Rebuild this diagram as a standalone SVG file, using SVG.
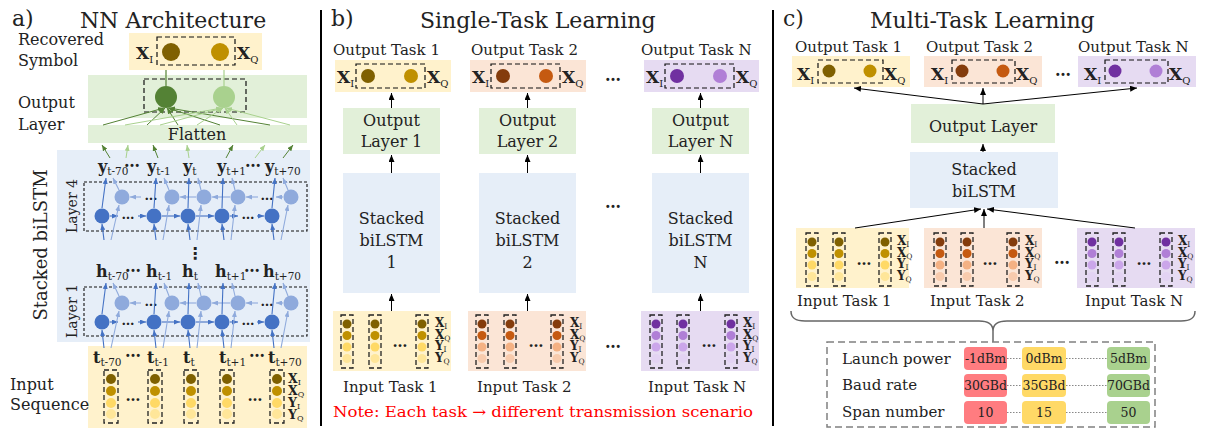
<svg xmlns="http://www.w3.org/2000/svg" width="1207" height="432" viewBox="0 0 1207 432">
<style>
text{font-family:"DejaVu Serif","Liberation Serif",serif;fill:#222}
.b{font-weight:bold}
.n{font-weight:normal}
.c{text-anchor:middle}
.red{fill:#ff0000}
.dash{fill:none;stroke:#111;stroke-width:1.2;stroke-dasharray:5,3}
.col{fill:none;stroke:#222;stroke-width:1.3;stroke-dasharray:5,3}
.k{stroke:#000;stroke-width:1;fill:none;marker-end:url(#mk)}
.db{stroke:#4472c4;stroke-width:1.1;fill:none;marker-end:url(#mdb)}
.lb{stroke:#8faadc;stroke-width:1.1;fill:none;marker-end:url(#mlb)}
.dg{stroke:#548235;stroke-width:1;fill:none;marker-end:url(#mdg)}
.lg{stroke:#a9d18e;stroke-width:1;fill:none;marker-end:url(#mlg)}
.yel{fill:#fff2cc}.ora{fill:#fbe5d6}.pur{fill:#e6dbf2}.grn{fill:#e2f0d9}.blu{fill:#e6eef8}
.dot{stroke:#888;stroke-width:1.2;stroke-dasharray:1.5,1.5}
</style>
<defs>
<marker id="mk" markerWidth="7" markerHeight="6" refX="7" refY="3" orient="auto" markerUnits="userSpaceOnUse"><path d="M0,0 L7,3 L0,6 Z" fill="#000"/></marker>
<marker id="mdb" markerWidth="6" markerHeight="5" refX="6" refY="2.5" orient="auto" markerUnits="userSpaceOnUse"><path d="M0,0 L6,2.5 L0,5 Z" fill="#4472c4"/></marker>
<marker id="mlb" markerWidth="6" markerHeight="5" refX="6" refY="2.5" orient="auto" markerUnits="userSpaceOnUse"><path d="M0,0 L6,2.5 L0,5 Z" fill="#8faadc"/></marker>
<marker id="mdg" markerWidth="6" markerHeight="5" refX="6" refY="2.5" orient="auto" markerUnits="userSpaceOnUse"><path d="M0,0 L6,2.5 L0,5 Z" fill="#548235"/></marker>
<marker id="mlg" markerWidth="6" markerHeight="5" refX="6" refY="2.5" orient="auto" markerUnits="userSpaceOnUse"><path d="M0,0 L6,2.5 L0,5 Z" fill="#a9d18e"/></marker>
<g id="cA"><rect x="-7" y="0" width="14" height="53" class="col"/><circle cy="9" r="5" fill="#7f6000"/><circle cy="21" r="5" fill="#bf9000"/><circle cy="33" r="5" fill="#ffd966"/><circle cy="44" r="5" fill="#ffe699"/></g>
<g id="cy"><rect x="-6" y="0" width="12" height="53" class="col"/><circle cy="9" r="4.5" fill="#7f6000"/><circle cy="20.5" r="4.5" fill="#bf9000"/><circle cy="32" r="4.5" fill="#ffd966"/><circle cy="43.5" r="4.5" fill="#ffe699"/></g>
<g id="co"><rect x="-6" y="0" width="12" height="53" class="col"/><circle cy="9" r="4.5" fill="#843c0c"/><circle cy="20.5" r="4.5" fill="#c55a11"/><circle cy="32" r="4.5" fill="#f4b183"/><circle cy="43.5" r="4.5" fill="#f8cbad"/></g>
<g id="cp"><rect x="-6" y="0" width="12" height="53" class="col"/><circle cy="9" r="4.5" fill="#7030a0"/><circle cy="20.5" r="4.5" fill="#b07fd6"/><circle cy="32" r="4.5" fill="#cba6ea"/><circle cy="43.5" r="4.5" fill="#e3d3f3"/></g>
<g id="labs" font-weight="bold" font-size="12"><text x="0" y="12">X<tspan class="n" font-size="7.5" dy="2">I</tspan></text><text x="0" y="23.5">X<tspan class="n" font-size="7.5" dy="2">Q</tspan></text><text x="0" y="35">Y<tspan class="n" font-size="7.5" dy="2">I</tspan></text><text x="0" y="46.5">Y<tspan class="n" font-size="7.5" dy="2">Q</tspan></text></g>
</defs>

<g id="separators">
<line x1="321" y1="10" x2="321" y2="426" stroke="#000" stroke-width="2"/>
<line x1="773" y1="10" x2="773" y2="426" stroke="#000" stroke-width="2"/>
</g>

<!-- ============ Panel a ============ -->
<g id="a-title"><text x="12" y="26" font-size="22">a)</text><text x="80" y="28" font-size="22">NN Architecture</text></g>

<g id="a-recovered">
<text x="18" y="45" font-size="16">Recovered</text>
<text x="18" y="66" font-size="16">Symbol</text>
<rect x="129" y="33" width="133" height="37" class="yel"/>
<rect x="157" y="37" width="78" height="28" class="dash"/>
<circle cx="171" cy="52" r="9" fill="#7f6000"/>
<circle cx="220" cy="52" r="9" fill="#bf9000"/>
<text x="136" y="59" class="b" font-size="17">X<tspan class="n" font-size="10" dy="4">I</tspan></text>
<text x="237" y="59" class="b" font-size="17">X<tspan class="n" font-size="10" dy="4">Q</tspan></text>
</g>

<g id="a-output-layer">
<text x="18" y="108" font-size="16">Output</text>
<text x="18" y="130" font-size="16">Layer</text>
<rect x="88" y="75" width="219" height="43" class="grn"/>
<rect x="144" y="79" width="102" height="33" class="dash"/>
<circle cx="166" cy="97" r="11" fill="#548235"/>
<circle cx="224" cy="97" r="11" fill="#a9d18e"/>
</g>

<g id="a-flatten">
<rect x="88" y="125" width="219" height="18" class="grn"/>
<text x="197" y="140" class="c" font-size="16">Flatten</text>
</g>

<g id="a-stacked">
<rect x="57" y="150" width="253" height="192" class="blu"/>
<text transform="translate(47,245) rotate(-90)" class="c" font-size="18">Stacked biLSTM</text>
<text transform="translate(77,206) rotate(-90)" class="c" font-size="14">Layer 4</text>
<text transform="translate(77,311) rotate(-90)" class="c" font-size="14">Layer 1</text>
<rect x="84" y="182" width="223" height="49" fill="none" stroke="#111" stroke-width="1.1" stroke-dasharray="3,2"/>
<rect x="84" y="287" width="223" height="49" fill="none" stroke="#111" stroke-width="1.1" stroke-dasharray="3,2"/>
<text x="195" y="259" class="c b" font-size="16" style="font-family:'DejaVu Sans',sans-serif">⋮</text>
</g>

<g id="a-y-labels" class="b" font-size="16">
<text x="98" y="172">y<tspan class="n" font-size="10.5" dy="3">t-70</tspan></text>
<text x="132" y="167" class="c">…</text>
<text x="147" y="172">y<tspan class="n" font-size="10.5" dy="3">t-1</tspan></text>
<text x="183" y="172">y<tspan class="n" font-size="10.5" dy="3">t</tspan></text>
<text x="217" y="172">y<tspan class="n" font-size="10.5" dy="3">t+1</tspan></text>
<text x="253" y="167" class="c">…</text>
<text x="265" y="172">y<tspan class="n" font-size="10.5" dy="3">t+70</tspan></text>
</g>
<g id="a-h-labels" class="b" font-size="16">
<text x="96" y="277">h<tspan class="n" font-size="10.5" dy="3">t-70</tspan></text>
<text x="133" y="272" class="c">…</text>
<text x="146" y="277">h<tspan class="n" font-size="10.5" dy="3">t-1</tspan></text>
<text x="182" y="277">h<tspan class="n" font-size="10.5" dy="3">t</tspan></text>
<text x="215" y="277">h<tspan class="n" font-size="10.5" dy="3">t+1</tspan></text>
<text x="252" y="272" class="c">…</text>
<text x="263" y="277">h<tspan class="n" font-size="10.5" dy="3">t+70</tspan></text>
</g>

<g id="a-layer4-nodes">
<circle cx="102" cy="216" r="7.5" fill="#4472c4"/><circle cx="154" cy="216" r="7.5" fill="#4472c4"/><circle cx="188" cy="216" r="7.5" fill="#4472c4"/><circle cx="222" cy="216" r="7.5" fill="#4472c4"/><circle cx="272" cy="216" r="7.5" fill="#4472c4"/>
<circle cx="122" cy="197" r="7.5" fill="#8faadc"/><circle cx="172" cy="197" r="7.5" fill="#8faadc"/><circle cx="204" cy="197" r="7.5" fill="#8faadc"/><circle cx="238" cy="197" r="7.5" fill="#8faadc"/><circle cx="291" cy="197" r="7.5" fill="#8faadc"/>
<text x="128" y="219" class="c b" font-size="13">…</text><text x="248" y="219" class="c b" font-size="13">…</text>
<text x="151" y="200" class="c b" font-size="13">…</text><text x="267" y="200" class="c b" font-size="13">…</text>
</g>
<g id="a-layer1-nodes">
<circle cx="102" cy="322" r="7.5" fill="#4472c4"/><circle cx="154" cy="322" r="7.5" fill="#4472c4"/><circle cx="188" cy="322" r="7.5" fill="#4472c4"/><circle cx="222" cy="322" r="7.5" fill="#4472c4"/><circle cx="272" cy="322" r="7.5" fill="#4472c4"/>
<circle cx="122" cy="303" r="7.5" fill="#8faadc"/><circle cx="172" cy="303" r="7.5" fill="#8faadc"/><circle cx="204" cy="303" r="7.5" fill="#8faadc"/><circle cx="238" cy="303" r="7.5" fill="#8faadc"/><circle cx="291" cy="303" r="7.5" fill="#8faadc"/>
<text x="128" y="325" class="c b" font-size="13">…</text><text x="248" y="325" class="c b" font-size="13">…</text>
<text x="151" y="306" class="c b" font-size="13">…</text><text x="267" y="306" class="c b" font-size="13">…</text>
</g>

<g id="a-input">
<rect x="88" y="346" width="219" height="82" class="yel"/>
<text x="10" y="390" font-size="16">Input</text>
<text x="10" y="410" font-size="16">Sequence</text>
<g class="b" font-size="16">
<text x="93" y="363">t<tspan class="n" font-size="10.5" dy="3">t-70</tspan></text>
<text x="133" y="357" class="c">…</text>
<text x="147" y="363">t<tspan class="n" font-size="10.5" dy="3">t-1</tspan></text>
<text x="183" y="363">t<tspan class="n" font-size="10.5" dy="3">t</tspan></text>
<text x="219" y="363">t<tspan class="n" font-size="10.5" dy="3">t+1</tspan></text>
<text x="257" y="357" class="c">…</text>
<text x="268" y="363">t<tspan class="n" font-size="10.5" dy="3">t+70</tspan></text>
</g>
<use href="#cA" x="111" y="370"/><use href="#cA" x="155" y="370"/><use href="#cA" x="191" y="370"/><use href="#cA" x="227" y="370"/><use href="#cA" x="277" y="370"/>
<text x="133" y="401" class="c b" font-size="15">…</text><text x="255" y="401" class="c b" font-size="15">…</text>
<g font-weight="bold" font-size="12.5">
<text x="288" y="383">X<tspan class="n" font-size="8" dy="2">I</tspan></text>
<text x="288" y="395">X<tspan class="n" font-size="8" dy="2">Q</tspan></text>
<text x="288" y="407">Y<tspan class="n" font-size="8" dy="2">I</tspan></text>
<text x="288" y="419">Y<tspan class="n" font-size="8" dy="2">Q</tspan></text>
</g>
</g>

<g id="a-connectors">
<line x1="166" y1="70" x2="166" y2="86" stroke="#548235" stroke-width="1.2"/>
<line x1="224" y1="70" x2="224" y2="86" stroke="#a9d18e" stroke-width="1.2"/>
<line class="dg" x1="103" y1="125" x2="164" y2="108"/><line class="dg" x1="147" y1="125" x2="165" y2="108"/><line class="dg" x1="178" y1="125" x2="167" y2="108"/><line class="dg" x1="220" y1="125" x2="168" y2="108"/><line class="dg" x1="270" y1="125" x2="169" y2="108"/>
<line class="lg" x1="125" y1="125" x2="222" y2="108"/><line class="lg" x1="160" y1="125" x2="223" y2="108"/><line class="lg" x1="197" y1="125" x2="223" y2="108"/><line class="lg" x1="237" y1="125" x2="225" y2="108"/><line class="lg" x1="290" y1="125" x2="226" y2="108"/>
<line class="dg" x1="110" y1="158" x2="102" y2="145"/><line class="lg" x1="126" y1="158" x2="128" y2="145"/><line class="dg" x1="158" y1="158" x2="153" y2="145"/><line class="lg" x1="189" y1="158" x2="187" y2="145"/><line class="dg" x1="226" y1="158" x2="233" y2="145"/><line class="lg" x1="255" y1="158" x2="265" y2="145"/><line class="dg" x1="283" y1="158" x2="293" y2="145"/>
<line class="db" x1="110" y1="216" x2="118" y2="216"/><line class="db" x1="138" y1="216" x2="146" y2="216"/><line class="db" x1="162" y1="216" x2="180" y2="216"/><line class="db" x1="196" y1="216" x2="214" y2="216"/><line class="db" x1="230" y1="216" x2="238" y2="216"/><line class="db" x1="257" y1="216" x2="264" y2="216"/>
<line class="lb" x1="141" y1="197" x2="130" y2="197"/><line class="lb" x1="196" y1="197" x2="180" y2="197"/><line class="lb" x1="230" y1="197" x2="212" y2="197"/><line class="lb" x1="258" y1="197" x2="246" y2="197"/><line class="lb" x1="283" y1="197" x2="276" y2="197"/>
<line class="db" x1="104" y1="240" x2="102" y2="224"/><line class="db" x1="156" y1="240" x2="154" y2="224"/><line class="db" x1="190" y1="240" x2="188" y2="224"/><line class="db" x1="224" y1="240" x2="222" y2="224"/><line class="db" x1="274" y1="240" x2="272" y2="224"/>
<line class="lb" x1="111" y1="240" x2="119" y2="205"/><line class="lb" x1="163" y1="240" x2="169" y2="205"/><line class="lb" x1="197" y1="240" x2="201" y2="205"/><line class="lb" x1="231" y1="240" x2="235" y2="205"/><line class="lb" x1="281" y1="240" x2="288" y2="205"/>
<line class="db" x1="102" y1="208" x2="106" y2="178"/><line class="db" x1="154" y1="208" x2="156" y2="178"/><line class="db" x1="188" y1="208" x2="189" y2="178"/><line class="db" x1="222" y1="208" x2="223" y2="178"/><line class="db" x1="272" y1="208" x2="275" y2="178"/>
<line class="lb" x1="119" y1="190" x2="113" y2="178"/><line class="lb" x1="169" y1="190" x2="164" y2="178"/><line class="lb" x1="201" y1="190" x2="198" y2="178"/><line class="lb" x1="235" y1="190" x2="232" y2="178"/><line class="lb" x1="288" y1="190" x2="283" y2="178"/>
<line class="db" x1="110" y1="322" x2="118" y2="322"/><line class="db" x1="138" y1="322" x2="146" y2="322"/><line class="db" x1="162" y1="322" x2="180" y2="322"/><line class="db" x1="196" y1="322" x2="214" y2="322"/><line class="db" x1="230" y1="322" x2="238" y2="322"/><line class="db" x1="257" y1="322" x2="264" y2="322"/>
<line class="lb" x1="141" y1="303" x2="130" y2="303"/><line class="lb" x1="196" y1="303" x2="180" y2="303"/><line class="lb" x1="230" y1="303" x2="212" y2="303"/><line class="lb" x1="258" y1="303" x2="246" y2="303"/><line class="lb" x1="283" y1="303" x2="276" y2="303"/>
<line class="db" x1="104" y1="348" x2="102" y2="330"/><line class="db" x1="156" y1="348" x2="154" y2="330"/><line class="db" x1="190" y1="348" x2="188" y2="330"/><line class="db" x1="224" y1="348" x2="222" y2="330"/><line class="db" x1="274" y1="348" x2="272" y2="330"/>
<line class="lb" x1="111" y1="348" x2="119" y2="311"/><line class="lb" x1="163" y1="348" x2="169" y2="311"/><line class="lb" x1="197" y1="348" x2="201" y2="311"/><line class="lb" x1="231" y1="348" x2="235" y2="311"/><line class="lb" x1="281" y1="348" x2="288" y2="311"/>
<line class="db" x1="102" y1="314" x2="106" y2="283"/><line class="db" x1="154" y1="314" x2="156" y2="283"/><line class="db" x1="188" y1="314" x2="189" y2="283"/><line class="db" x1="222" y1="314" x2="223" y2="283"/><line class="db" x1="272" y1="314" x2="275" y2="283"/>
<line class="lb" x1="119" y1="296" x2="113" y2="283"/><line class="lb" x1="169" y1="296" x2="164" y2="283"/><line class="lb" x1="201" y1="296" x2="198" y2="283"/><line class="lb" x1="235" y1="296" x2="232" y2="283"/><line class="lb" x1="288" y1="296" x2="283" y2="283"/>
</g>

<!-- ============ Panel b ============ -->
<g id="b-title"><text x="331" y="26" font-size="22">b)</text><text x="420" y="28" font-size="22">Single-Task Learning</text></g>

<g id="b-out1">
<text x="333" y="55" font-size="15">Output Task 1</text>
<rect x="335" y="60" width="116" height="32" class="yel"/>
<rect x="356" y="64" width="69" height="24" class="dash"/>
<circle cx="368" cy="76" r="7" fill="#7f6000"/><circle cx="411" cy="76" r="7" fill="#bf9000"/>
<text x="337" y="83" class="b" font-size="17">X<tspan class="n" font-size="10" dy="4">I</tspan></text>
<text x="427" y="83" class="b" font-size="17">X<tspan class="n" font-size="10" dy="4">Q</tspan></text>
</g>
<g id="b-out2">
<text x="471" y="55" font-size="15">Output Task 2</text>
<rect x="470" y="60" width="116" height="32" class="ora"/>
<rect x="491" y="64" width="69" height="24" class="dash"/>
<circle cx="503" cy="76" r="7" fill="#843c0c"/><circle cx="546" cy="76" r="7" fill="#c55a11"/>
<text x="472" y="83" class="b" font-size="17">X<tspan class="n" font-size="10" dy="4">I</tspan></text>
<text x="562" y="83" class="b" font-size="17">X<tspan class="n" font-size="10" dy="4">Q</tspan></text>
</g>
<g id="b-outN">
<text x="641" y="55" font-size="15">Output Task N</text>
<rect x="644" y="60" width="115" height="32" class="pur"/>
<rect x="665" y="64" width="69" height="24" class="dash"/>
<circle cx="677" cy="76" r="7" fill="#7030a0"/><circle cx="720" cy="76" r="7" fill="#b07fd6"/>
<text x="646" y="83" class="b" font-size="17">X<tspan class="n" font-size="10" dy="4">I</tspan></text>
<text x="736" y="83" class="b" font-size="17">X<tspan class="n" font-size="10" dy="4">Q</tspan></text>
</g>
<g id="b-dots" class="b" font-size="16">
<text x="613" y="81" class="c">…</text><text x="613" y="208" class="c">…</text><text x="613" y="348" class="c">…</text>
</g>

<g id="b-ol1"><rect x="343" y="108" width="97" height="46" class="grn"/><text x="391.5" y="126" class="c" font-size="16">Output</text><text x="391.5" y="147" class="c" font-size="16">Layer 1</text></g>
<g id="b-ol2"><rect x="479" y="108" width="97" height="46" class="grn"/><text x="527.5" y="126" class="c" font-size="16">Output</text><text x="527.5" y="147" class="c" font-size="16">Layer 2</text></g>
<g id="b-olN"><rect x="652" y="108" width="97" height="46" class="grn"/><text x="700.5" y="126" class="c" font-size="16">Output</text><text x="700.5" y="147" class="c" font-size="16">Layer N</text></g>

<g id="b-st1"><rect x="343" y="173" width="97" height="120" class="blu"/><text x="391.5" y="224" class="c" font-size="16">Stacked</text><text x="391.5" y="246" class="c" font-size="16">biLSTM</text><text x="391.5" y="268" class="c" font-size="16">1</text></g>
<g id="b-st2"><rect x="479" y="173" width="97" height="120" class="blu"/><text x="527.5" y="224" class="c" font-size="16">Stacked</text><text x="527.5" y="246" class="c" font-size="16">biLSTM</text><text x="527.5" y="268" class="c" font-size="16">2</text></g>
<g id="b-stN"><rect x="652" y="173" width="97" height="120" class="blu"/><text x="700.5" y="224" class="c" font-size="16">Stacked</text><text x="700.5" y="246" class="c" font-size="16">biLSTM</text><text x="700.5" y="268" class="c" font-size="16">N</text></g>

<g id="b-in1">
<rect x="333" y="311" width="118" height="60" class="yel"/>
<use href="#cy" x="347" y="315"/><use href="#cy" x="375" y="315"/><use href="#cy" x="422" y="315"/>
<text x="400" y="347" class="c b" font-size="15">…</text>
<use href="#labs" x="435" y="315"/>
<text x="343" y="392" font-size="15">Input Task 1</text>
</g>
<g id="b-in2">
<rect x="468" y="311" width="118" height="60" class="ora"/>
<use href="#co" x="482" y="315"/><use href="#co" x="510" y="315"/><use href="#co" x="557" y="315"/>
<text x="536" y="347" class="c b" font-size="15">…</text>
<use href="#labs" x="570" y="315"/>
<text x="477" y="392" font-size="15">Input Task 2</text>
</g>
<g id="b-inN">
<rect x="641" y="311" width="118" height="60" class="pur"/>
<use href="#cp" x="656" y="315"/><use href="#cp" x="683" y="315"/><use href="#cp" x="731" y="315"/>
<text x="709" y="347" class="c b" font-size="15">…</text>
<use href="#labs" x="743" y="315"/>
<text x="648" y="392" font-size="15">Input Task N</text>
</g>
<g id="b-note"><text x="333" y="417" font-size="15" class="red" textLength="420" lengthAdjust="spacingAndGlyphs">Note: Each task → different transmission scenario</text></g>

<g id="b-connectors">
<line class="k" x1="391.5" y1="108" x2="391.5" y2="93"/><line class="k" x1="527.5" y1="108" x2="527.5" y2="93"/><line class="k" x1="700.5" y1="108" x2="700.5" y2="93"/>
<line class="k" x1="391.5" y1="173" x2="391.5" y2="155"/><line class="k" x1="527.5" y1="173" x2="527.5" y2="155"/><line class="k" x1="700.5" y1="173" x2="700.5" y2="155"/>
<line class="k" x1="391.5" y1="311" x2="391.5" y2="294"/><line class="k" x1="527.5" y1="311" x2="527.5" y2="294"/><line class="k" x1="700.5" y1="311" x2="700.5" y2="294"/>
</g>

<!-- ============ Panel c ============ -->
<g id="c-title"><text x="783" y="26" font-size="22">c)</text><text x="870" y="28" font-size="22">Multi-Task Learning</text></g>

<g id="c-out1">
<text x="795" y="52" font-size="15">Output Task 1</text>
<rect x="792" y="56" width="118" height="31" class="yel"/>
<rect x="818" y="60" width="65" height="23" class="dash"/>
<circle cx="829" cy="71" r="6.5" fill="#7f6000"/><circle cx="870" cy="71" r="6.5" fill="#bf9000"/>
<text x="797" y="80" class="b" font-size="17">X<tspan class="n" font-size="10" dy="4">I</tspan></text>
<text x="884" y="80" class="b" font-size="17">X<tspan class="n" font-size="10" dy="4">Q</tspan></text>
</g>
<g id="c-out2">
<text x="926" y="52" font-size="15">Output Task 2</text>
<rect x="924" y="56" width="118" height="31" class="ora"/>
<rect x="952" y="60" width="63" height="23" class="dash"/>
<circle cx="962" cy="71" r="6.5" fill="#843c0c"/><circle cx="1003" cy="71" r="6.5" fill="#c55a11"/>
<text x="931" y="80" class="b" font-size="17">X<tspan class="n" font-size="10" dy="4">I</tspan></text>
<text x="1016" y="80" class="b" font-size="17">X<tspan class="n" font-size="10" dy="4">Q</tspan></text>
</g>
<g id="c-outN">
<text x="1078" y="52" font-size="15">Output Task N</text>
<rect x="1078" y="56" width="118" height="31" class="pur"/>
<rect x="1105" y="60" width="63" height="23" class="dash"/>
<circle cx="1115" cy="71" r="6.5" fill="#7030a0"/><circle cx="1156" cy="71" r="6.5" fill="#b07fd6"/>
<text x="1084" y="80" class="b" font-size="17">X<tspan class="n" font-size="10" dy="4">I</tspan></text>
<text x="1169" y="80" class="b" font-size="17">X<tspan class="n" font-size="10" dy="4">Q</tspan></text>
</g>
<g id="c-dots" class="b" font-size="16"><text x="1063" y="76" class="c">…</text><text x="1062" y="264" class="c">…</text></g>

<g id="c-ol"><rect x="911" y="104" width="144" height="39" class="grn"/><text x="983" y="132" class="c" font-size="16">Output Layer</text></g>
<g id="c-st"><rect x="910" y="152" width="148" height="56" class="blu"/><text x="984" y="175" class="c" font-size="16">Stacked</text><text x="984" y="197" class="c" font-size="16">biLSTM</text></g>

<g id="c-in1">
<rect x="796" y="228" width="113" height="60" class="yel"/>
<use href="#cy" x="812" y="233"/><use href="#cy" x="839" y="233"/><use href="#cy" x="885" y="233"/>
<text x="864" y="265" class="c b" font-size="15">…</text>
<use href="#labs" x="897" y="233"/>
<text x="797" y="306" font-size="15">Input Task 1</text>
</g>
<g id="c-in2">
<rect x="924" y="228" width="118" height="60" class="ora"/>
<use href="#co" x="940" y="233"/><use href="#co" x="967" y="233"/><use href="#co" x="1013" y="233"/>
<text x="990" y="265" class="c b" font-size="15">…</text>
<use href="#labs" x="1025" y="233"/>
<text x="930" y="306" font-size="15">Input Task 2</text>
</g>
<g id="c-inN">
<rect x="1077" y="228" width="118" height="60" class="pur"/>
<use href="#cp" x="1092" y="233"/><use href="#cp" x="1119" y="233"/><use href="#cp" x="1166" y="233"/>
<text x="1144" y="265" class="c b" font-size="15">…</text>
<use href="#labs" x="1178" y="233"/>
<text x="1085" y="306" font-size="15">Input Task N</text>
</g>

<g id="c-connectors">
<line class="k" x1="983" y1="104" x2="983" y2="88"/>
<line class="k" x1="983" y1="104" x2="854" y2="88"/>
<line class="k" x1="983" y1="104" x2="1137" y2="88"/>
<line class="k" x1="983" y1="152" x2="983" y2="144"/>
<line class="k" x1="855" y1="228" x2="981" y2="209"/>
<line class="k" x1="984" y1="228" x2="984" y2="209"/>
<line class="k" x1="1135" y1="228" x2="987" y2="209"/>
<path d="M791,311 C791,318 795,321 805,321 L979,321 C989,321 993,325 993,331 C993,325 997,321 1007,321 L1181,321 C1191,321 1195,318 1195,311" fill="none" stroke="#666" stroke-width="1.5"/>
<line x1="993" y1="331" x2="993" y2="342" stroke="#666" stroke-width="1.5"/>
</g>

<g id="c-table">
<rect x="827" y="342" width="328" height="85" fill="none" stroke="#808080" stroke-width="1.5" stroke-dasharray="7,4"/>
<text x="842" y="364" font-size="15">Launch power</text>
<text x="842" y="390" font-size="15">Baud rate</text>
<text x="842" y="417" font-size="15">Span number</text>
<line class="dot" x1="1007" y1="358.5" x2="1022" y2="358.5"/><line class="dot" x1="1066" y1="358.5" x2="1107" y2="358.5"/>
<line class="dot" x1="1007" y1="385.5" x2="1022" y2="385.5"/><line class="dot" x1="1066" y1="385.5" x2="1107" y2="385.5"/>
<line class="dot" x1="1007" y1="412.5" x2="1022" y2="412.5"/><line class="dot" x1="1066" y1="412.5" x2="1107" y2="412.5"/>
<rect x="964" y="347" width="43" height="23" rx="4" fill="#ff7c80"/><rect x="1022" y="347" width="44" height="23" rx="4" fill="#ffd966"/><rect x="1107" y="347" width="43" height="23" rx="4" fill="#a9d18e"/>
<rect x="964" y="374" width="43" height="23" rx="4" fill="#ff7c80"/><rect x="1022" y="374" width="44" height="23" rx="4" fill="#ffd966"/><rect x="1107" y="374" width="43" height="23" rx="4" fill="#a9d18e"/>
<rect x="964" y="401" width="43" height="23" rx="4" fill="#ff7c80"/><rect x="1022" y="401" width="44" height="23" rx="4" fill="#ffd966"/><rect x="1107" y="401" width="43" height="23" rx="4" fill="#a9d18e"/>
<g font-size="12.5">
<text x="985.5" y="363" class="c">-1dBm</text><text x="1044" y="363" class="c">0dBm</text><text x="1128.5" y="363" class="c">5dBm</text>
<text x="985.5" y="390" class="c">30GBd</text><text x="1044" y="390" class="c">35GBd</text><text x="1128.5" y="390" class="c">70GBd</text>
<text x="985.5" y="417" class="c">10</text><text x="1044" y="417" class="c">15</text><text x="1128.5" y="417" class="c">50</text>
</g>
</g>
</svg>
